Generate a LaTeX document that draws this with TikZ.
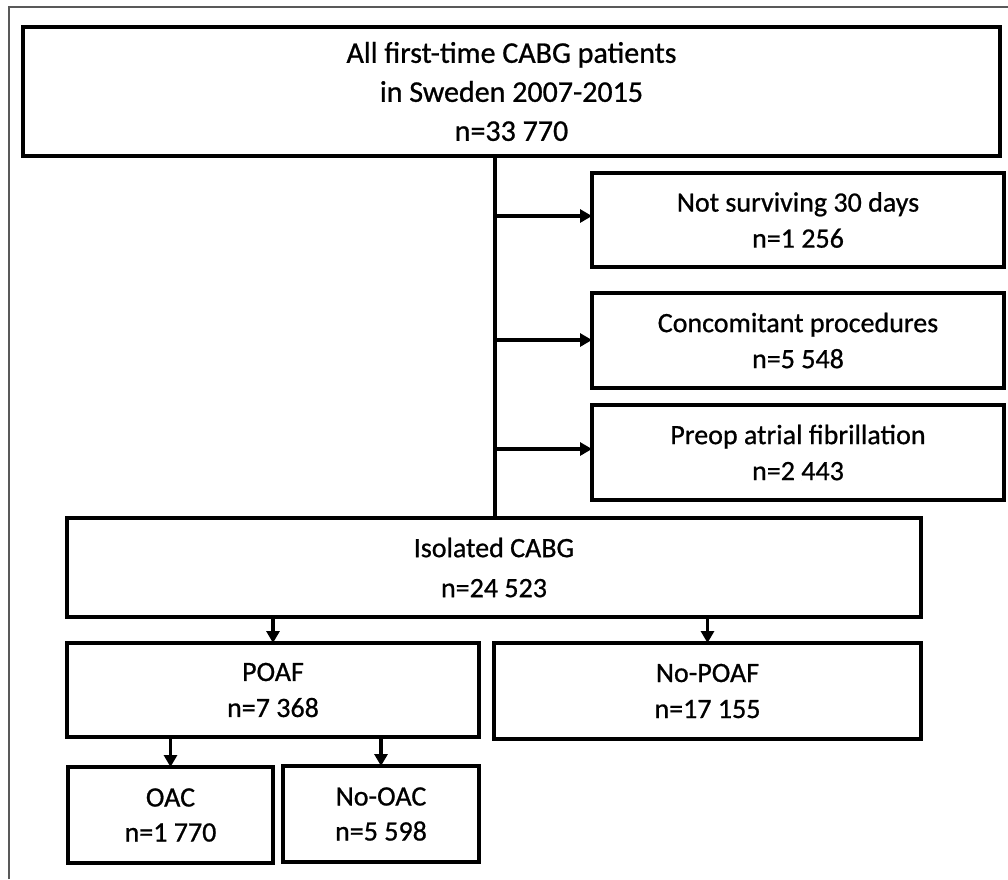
\documentclass[tikz,border=0pt]{standalone}
\usepackage{fontspec}
\setmainfont{Carlito}[FakeBold=0.8]
\usetikzlibrary{arrows.meta,calc}
\begin{document}
\begin{tikzpicture}[x=1pt,y=-1pt,
  box/.style={draw=black, line width=4.5pt, inner sep=0pt, outer sep=0pt, align=center,
    font=\fontsize{28}{36}\selectfont},
  conn/.style={line width=3.6pt, draw=black},
  arr/.style={conn, -{Triangle[length=12pt,width=13pt]}},
  frame/.style={draw=black!65, line width=1.6pt}]
\useasboundingbox (0,0) rectangle (1008,879);
\draw[frame] (9,879) -- (9,7) -- (1008,7);
% nodes
\node[box, minimum width=977pt, minimum height=129pt, font=\fontsize{30}{39}\selectfont] (top) at (511.5,91.5)
  {All first-time CABG patients\\in Sweden 2007-2015\\n=33 770};
\node[box, minimum width=412pt, minimum height=94pt] (b1) at (798,220) {Not surviving 30 days\\n=1 256};
\node[box, minimum width=412pt, minimum height=95pt] (b2) at (798,340.5) {Concomitant procedures\\n=5 548};
\node[box, minimum width=412pt, minimum height=95pt] (b3) at (798,452.5) {Preop atrial fibrillation\\n=2 443};
\node[box, minimum width=854pt, minimum height=99pt, font=\fontsize{28}{40}\selectfont] (iso) at (494,567.5) {Isolated CABG\\n=24 523};
\node[box, minimum width=412pt, minimum height=94pt] (poaf) at (273,690) {POAF\\n=7 368};
\node[box, minimum width=427pt, minimum height=96pt] (nopoaf) at (707.5,691) {No-POAF\\n=17 155};
\node[box, minimum width=205pt, minimum height=96pt, font=\fontsize{28}{35}\selectfont] (oac) at (170.5,815) {OAC\\n=1 770};
\node[box, minimum width=196pt, minimum height=96pt, font=\fontsize{28}{35}\selectfont] (nooac) at (381,814) {No-OAC\\n=5 598};
% trunk
\coordinate (tk) at (495,0);
\draw[conn] (tk |- top.south) -- (tk |- iso.north);
\coordinate (t1) at (495,216);
\coordinate (t2) at (495,340);
\coordinate (t3) at (495,449);
\draw[arr] (t1) -- (t1 -| b1.west);
\draw[arr] (t2) -- (t2 -| b2.west);
\draw[arr] (t3) -- (t3 -| b3.west);
% lower arrows
\draw[arr] (iso.south -| poaf.north) -- (poaf.north);
\draw[arr] (iso.south -| nopoaf.north) -- (nopoaf.north);
\draw[arr] (poaf.south -| oac.north) -- (oac.north);
\draw[arr] (poaf.south -| nooac.north) -- (nooac.north);
\end{tikzpicture}
\end{document}
